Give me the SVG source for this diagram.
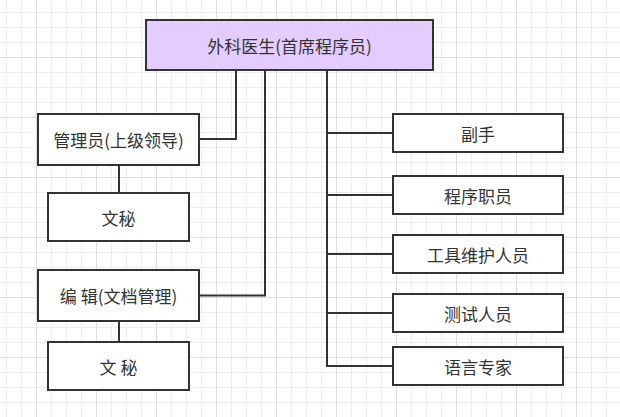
<svg xmlns="http://www.w3.org/2000/svg" width="620" height="417" viewBox="0 0 620 417">
<defs>
<pattern id="grid" patternUnits="userSpaceOnUse" x="36" y="57" width="60" height="60">
<rect x="15" y="0" width="1" height="60" fill="#eeeeee"/>
<rect x="30" y="0" width="1" height="60" fill="#eeeeee"/>
<rect x="45" y="0" width="1" height="60" fill="#eeeeee"/>
<rect x="0" y="15" width="60" height="1" fill="#eeeeee"/>
<rect x="0" y="30" width="60" height="1" fill="#eeeeee"/>
<rect x="0" y="45" width="60" height="1" fill="#eeeeee"/>
<rect x="0" y="0" width="1" height="60" fill="#dedede"/>
<rect x="0" y="0" width="60" height="1" fill="#dedede"/>
</pattern>
<style>
.box{fill:#ffffff;stroke:#333333;stroke-width:2}
.top{fill:#e5ccff}
.lbl{font-family:"Noto Sans CJK SC","Noto Sans",sans-serif;font-size:17px;fill:#333333;text-anchor:middle;dominant-baseline:central}
.con{fill:none;stroke:#333333;stroke-width:2}
</style>
</defs>
<rect width="620" height="417" fill="#ffffff"/>
<rect width="620" height="417" fill="url(#grid)"/>
<g id="connectors">
<path class="con" d="M236 70V139H199"/>
<path class="con" d="M265 70V295.5H199"/>
<path class="con" d="M119 165V193"/>
<path class="con" d="M119 321V342"/>
<path class="con" d="M327 70V366H393"/>
<path class="con" d="M327 133H393"/>
<path class="con" d="M327 195H393"/>
<path class="con" d="M327 254H393"/>
<path class="con" d="M327 313H393"/>
</g>
<g id="chief"><rect class="box top" x="146" y="20" width="287" height="50"/><text class="lbl" x="289.5" y="45">外科医生(首席程序员)</text></g>
<g id="admin"><rect class="box" x="38" y="114" width="161" height="51"/><text class="lbl" x="118.5" y="139.5">管理员(上级领导)</text></g>
<g id="secretary1"><rect class="box" x="48" y="193" width="141" height="48"/><text class="lbl" x="118.5" y="217">文秘</text></g>
<g id="editor"><rect class="box" x="38" y="270" width="161" height="51"/><text class="lbl" x="118.5" y="295.5">编 辑(文档管理)</text></g>
<g id="secretary2"><rect class="box" x="48" y="342" width="141" height="48"/><text class="lbl" x="118.5" y="366">文 秘</text></g>
<g id="copilot"><rect class="box" x="393" y="114" width="170" height="38"/><text class="lbl" x="478" y="133">副手</text></g>
<g id="clerk"><rect class="box" x="393" y="176" width="170" height="38"/><text class="lbl" x="478" y="195">程序职员</text></g>
<g id="toolsmith"><rect class="box" x="393" y="235" width="170" height="38"/><text class="lbl" x="478" y="254">工具维护人员</text></g>
<g id="tester"><rect class="box" x="393" y="294" width="170" height="38"/><text class="lbl" x="478" y="313">测试人员</text></g>
<g id="lawyer"><rect class="box" x="393" y="347" width="170" height="38"/><text class="lbl" x="478" y="366">语言专家</text></g>
</svg>
